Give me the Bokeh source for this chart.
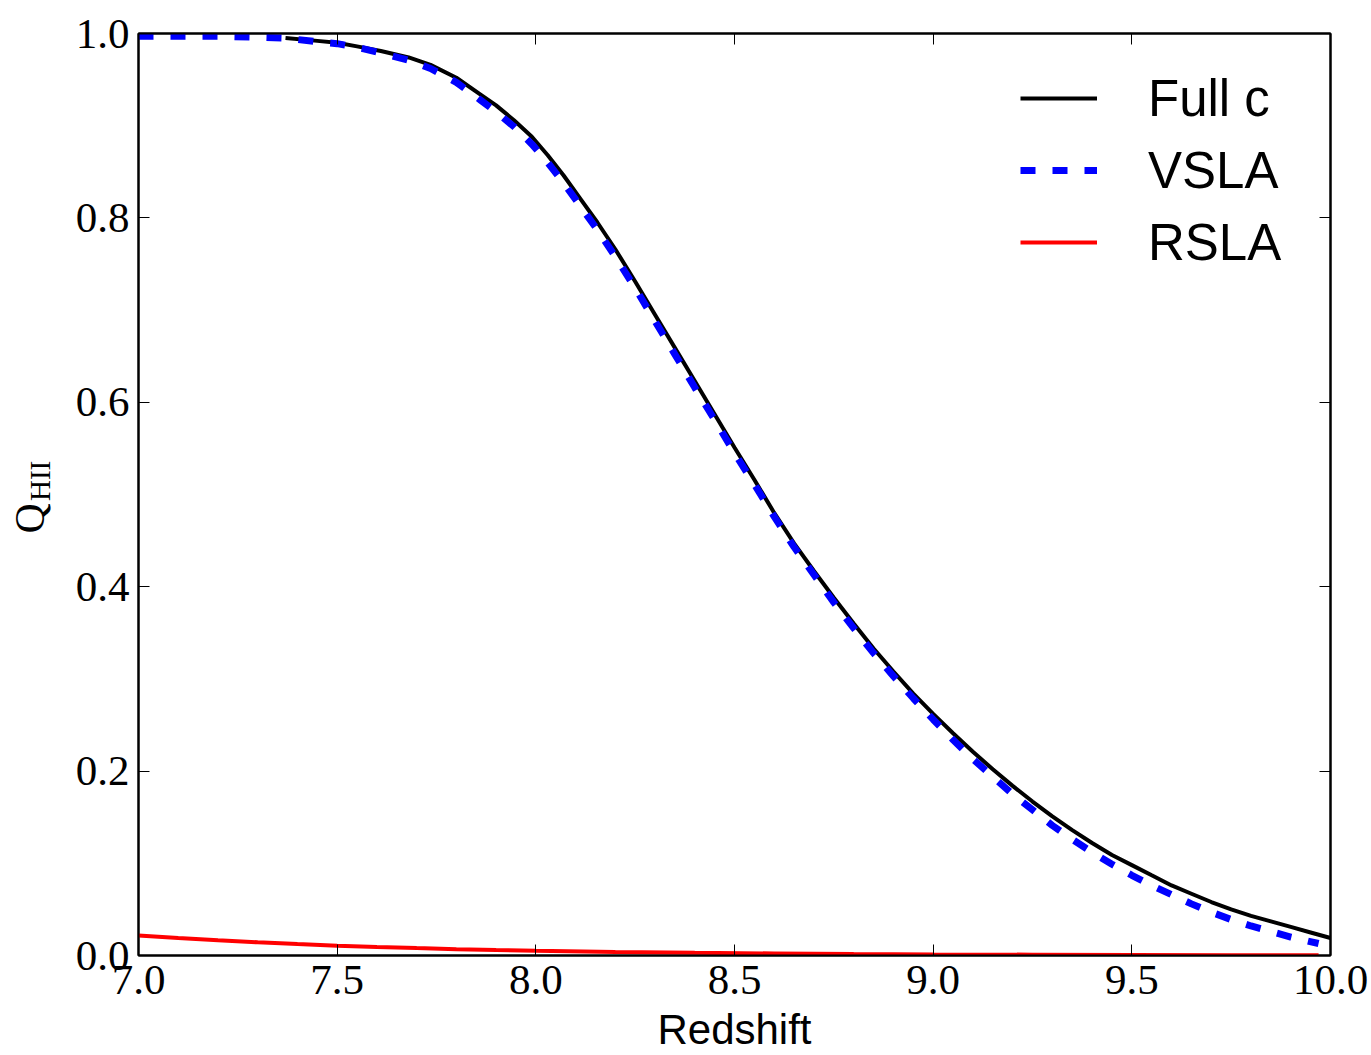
import math
from bokeh.plotting import figure
from bokeh.layouts import row
from bokeh.models import (Range1d, FixedTicker, PrintfTickFormatter, LinearAxis,
                          CustomJSTickFormatter, Label, Legend, LegendItem)
from bokeh.embed import file_html
from bokeh.resources import INLINE

# ---------------- data ----------------
z_full = [7.37, 7.45, 7.5, 7.55, 7.61, 7.68, 7.735, 7.80, 7.86, 7.90, 7.945, 7.99,
          8.03, 8.07, 8.11, 8.155, 8.20, 8.25, 8.30, 8.35, 8.40, 8.45, 8.50, 8.55,
          8.60, 8.65, 8.70, 8.75, 8.80, 8.85, 8.90, 8.95, 9.00, 9.05, 9.10, 9.15,
          9.20, 9.25, 9.30, 9.35, 9.40, 9.45, 9.50, 9.55, 9.60, 9.65, 9.70, 9.75,
          9.80, 9.85, 9.90, 9.95, 10.0]
q_full = [0.995, 0.992, 0.990, 0.986, 0.981, 0.974, 0.966, 0.952, 0.934, 0.922,
          0.906, 0.888, 0.868, 0.846, 0.822, 0.795, 0.766, 0.731, 0.695, 0.659,
          0.623, 0.587, 0.551, 0.516, 0.480, 0.447, 0.417, 0.388, 0.360, 0.333,
          0.308, 0.284, 0.262, 0.241, 0.221, 0.202, 0.184, 0.167, 0.151, 0.136,
          0.122, 0.109, 0.098, 0.087, 0.076, 0.067, 0.058, 0.050, 0.043, 0.037,
          0.031, 0.025, 0.019]

z_vsla = [7.0, 7.1, 7.2, 7.3, 7.37, 7.45, 7.5, 7.55, 7.61, 7.68, 7.735, 7.80, 7.86,
          7.90, 7.945, 7.99, 8.03, 8.07, 8.11, 8.155, 8.20, 8.25, 8.30, 8.35, 8.40,
          8.45, 8.50, 8.55, 8.60, 8.65, 8.70, 8.75, 8.80, 8.85, 8.90, 8.95, 9.00,
          9.05, 9.10, 9.15, 9.20, 9.25, 9.30, 9.35, 9.40, 9.45, 9.50, 9.55, 9.60,
          9.65, 9.70, 9.75, 9.80, 9.85, 9.90, 9.97]
q_vsla = [0.997, 0.997, 0.997, 0.996, 0.995, 0.991, 0.989, 0.985, 0.979, 0.971,
          0.962, 0.947, 0.928, 0.915, 0.899, 0.880, 0.860, 0.838, 0.814, 0.787,
          0.758, 0.724, 0.688, 0.652, 0.616, 0.581, 0.545, 0.511, 0.476, 0.443,
          0.413, 0.383, 0.355, 0.328, 0.303, 0.279, 0.256, 0.234, 0.213, 0.194,
          0.175, 0.158, 0.141, 0.126, 0.112, 0.099, 0.087, 0.076, 0.066, 0.056,
          0.047, 0.039, 0.032, 0.026, 0.020, 0.013]

z_rsla = [7.0, 7.1, 7.2, 7.3, 7.4, 7.5, 7.6, 7.7, 7.8, 7.9, 8.0, 8.2, 8.4, 8.6,
          8.8, 9.0, 9.25, 9.5, 9.75, 9.97]
q_rsla = [0.0217, 0.0190, 0.0165, 0.0143, 0.0124, 0.0107, 0.0093, 0.0080, 0.0069,
          0.0060, 0.0052, 0.0039, 0.0029, 0.0022, 0.0016, 0.0012, 0.0009, 0.0006,
          0.0004, 0.0003]

x_ticks = [7.0, 7.5, 8.0, 8.5, 9.0, 9.5, 10.0]
y_ticks = [0.0, 0.2, 0.4, 0.6, 0.8, 1.0]

series_labels = ["Full c", "VSLA", "RSLA"]
x_label = "Redshift"
y_label_main = "Q"
y_label_sub = "HII"

LEFT_W = 70
tick_font = "Liberation Serif"

# ---------------- main figure ----------------
p = figure(width=1371 - LEFT_W, height=1055, output_backend="svg", toolbar_location=None,
           x_range=Range1d(7.0, 10.0), y_range=Range1d(0.0, 1.0),
           min_border_left=138 - LEFT_W, min_border_right=41, min_border_top=33,
           min_border_bottom=100)
p.background_fill_color = "white"
p.border_fill_color = "white"
p.xgrid.visible = False
p.ygrid.visible = False
p.outline_line_color = "black"
p.outline_line_width = 2


def style_axis(ax, labels=True):
    ax.axis_line_color = "black"
    ax.axis_line_width = 2
    ax.major_tick_in = 11
    ax.major_tick_out = 0
    ax.major_tick_line_color = "black"
    ax.major_tick_line_width = 1
    ax.minor_tick_line_color = None
    ax.major_label_text_font = tick_font
    ax.major_label_text_font_size = "43px"
    ax.major_label_text_color = "black"
    ax.major_label_standoff = 10
    if not labels:
        ax.formatter = CustomJSTickFormatter(code="return ''")
        ax.major_label_standoff = 0


xa = p.xaxis[0]
xa.ticker = FixedTicker(ticks=x_ticks)
xa.formatter = PrintfTickFormatter(format="%.1f")
style_axis(xa)
xa.axis_label = x_label
xa.axis_label_text_font = "Liberation Sans"
xa.axis_label_text_font_size = "42px"
xa.axis_label_text_font_style = "normal"
xa.axis_label_text_color = "black"
xa.axis_label_standoff = 9

ya = p.yaxis[0]
ya.ticker = FixedTicker(ticks=y_ticks)
ya.formatter = PrintfTickFormatter(format="%.1f")
style_axis(ya)
ya.major_label_standoff = 9

top = LinearAxis(ticker=FixedTicker(ticks=x_ticks))
style_axis(top, labels=False)
p.add_layout(top, "above")
right = LinearAxis(ticker=FixedTicker(ticks=y_ticks))
style_axis(right, labels=False)
p.add_layout(right, "right")

r_full = p.line(z_full, q_full, line_color="black", line_width=4)
r_vsla = p.line(z_vsla, q_vsla, line_color="blue", line_width=7,
                line_dash="15 17", line_cap="butt")
r_rsla = p.line(z_rsla, q_rsla, line_color="red", line_width=4)

legend = Legend(items=[LegendItem(label=series_labels[0], renderers=[r_full]),
                       LegendItem(label=series_labels[1], renderers=[r_vsla]),
                       LegendItem(label=series_labels[2], renderers=[r_rsla])],
                location=(882, 677), orientation="vertical")
legend.border_line_color = None
legend.background_fill_alpha = 0
legend.padding = 0
legend.margin = 0
legend.spacing = 0
legend.glyph_width = 77
legend.glyph_height = 72
legend.label_height = 72
legend.label_standoff = 51
legend.label_text_font = "Liberation Sans"
legend.label_text_font_size = "51px"
legend.label_text_color = "black"
p.add_layout(legend, "center")

# ---------------- narrow strip on the left carrying the y-axis title Q_HII ----------------
side = figure(width=LEFT_W, height=1055, output_backend="svg", toolbar_location=None,
              x_range=Range1d(0, LEFT_W), y_range=Range1d(0, 1055),
              x_axis_type=None, y_axis_type=None,
              min_border_left=0, min_border_right=0, min_border_top=0, min_border_bottom=0)
side.outline_line_color = None
side.xgrid.visible = False
side.ygrid.visible = False
side.background_fill_color = "white"
side.border_fill_color = "white"
side.add_layout(Label(x=29, y=483, text=y_label_main,
                      angle=math.pi / 2, text_font=tick_font, text_font_size="42px",
                      text_align="left", text_baseline="alphabetic", text_color="black"))
side.add_layout(Label(x=39, y=520, text=y_label_sub,
                      angle=math.pi / 2, text_font=tick_font, text_font_size="29px",
                      text_align="left", text_baseline="alphabetic", text_color="black"))

layout = row(side, p, spacing=0)
open("out.html", "w").write(file_html(layout, INLINE))
